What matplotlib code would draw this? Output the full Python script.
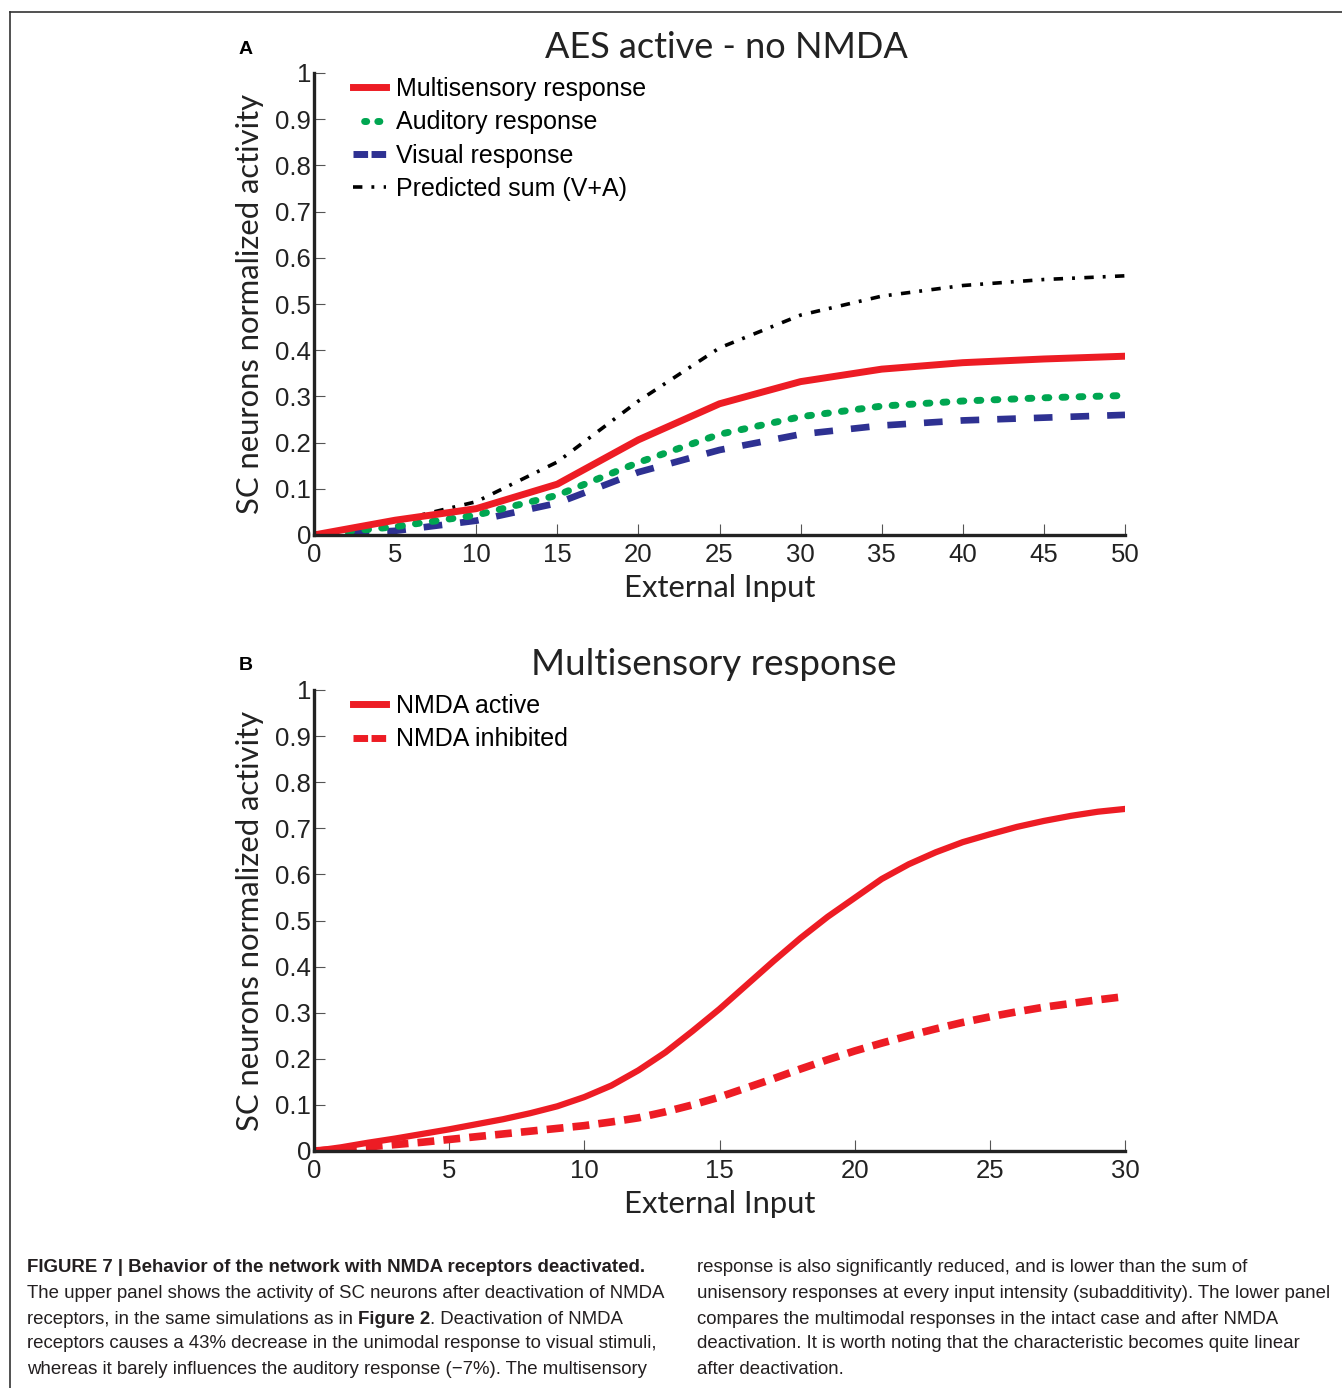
import numpy as np
from matplotlib import pyplot as plt
from matplotlib.lines import Line2D

# panel A data (external input 0..50, step 5)
input_a = [0, 5, 10, 15, 20, 25, 30, 35, 40, 45, 50]
multisensory = [0.0, 0.032, 0.057, 0.110, 0.206, 0.284, 0.332, 0.359, 0.373, 0.381, 0.387]
auditory = [0.0, 0.018, 0.043, 0.086, 0.157, 0.218, 0.256, 0.279, 0.290, 0.297, 0.302]
visual = [0.0, 0.009, 0.031, 0.069, 0.136, 0.184, 0.218, 0.237, 0.248, 0.254, 0.260]
predicted_sum = [0.0, 0.030, 0.072, 0.158, 0.290, 0.405, 0.476, 0.517, 0.540, 0.553, 0.561]

# panel B data (external input 0..30)
input_b = list(range(31))
nmda_active = [0.0, 0.008, 0.018, 0.027, 0.037, 0.047, 0.058, 0.069, 0.082, 0.097,
               0.117, 0.142, 0.175, 0.214, 0.260, 0.308, 0.360, 0.412, 0.462, 0.508,
               0.549, 0.590, 0.622, 0.648, 0.670, 0.687, 0.703, 0.716, 0.727, 0.736, 0.742]
nmda_inhibited = [0.0, 0.004, 0.009, 0.014, 0.019, 0.025, 0.031, 0.037, 0.043, 0.049,
                  0.055, 0.063, 0.072, 0.085, 0.100, 0.117, 0.137, 0.157, 0.178, 0.198,
                  0.217, 0.234, 0.250, 0.265, 0.279, 0.291, 0.302, 0.312, 0.320, 0.328, 0.335]

yticks = [0, 0.1, 0.2, 0.3, 0.4, 0.5, 0.6, 0.7, 0.8, 0.9, 1]
ytick_labels = ["0", "0.1", "0.2", "0.3", "0.4", "0.5", "0.6", "0.7", "0.8", "0.9", "1"]

red = "#ed1c24"
green = "#00a651"
blue = "#2e3192"
title_font = "Lato"
tick_font = "Liberation Sans"

# line styles (dash patterns in units of line width)
dotted = (0, (0.55, 1.9))
dashed_blue = (0, (2.8, 2.7))
dash_dot = (0, (2.6, 2.5, 0.8, 2.6))
dashed_red = (0, (2.2, 1.2))

W, H = 1342, 1388
fig = plt.figure(figsize=(W / 100, H / 100), dpi=100)


def style_axes(ax, xmax, xstep):
    ax.set_xlim(0, xmax)
    ax.set_ylim(0, 1)
    ax.spines["top"].set_visible(False)
    ax.spines["right"].set_visible(False)
    for side in ["left", "bottom"]:
        ax.spines[side].set_linewidth(2.4)
        ax.spines[side].set_color("#222222")
    ax.set_xticks(np.arange(0, xmax + 1, xstep))
    ax.set_yticks(yticks)
    ax.set_yticklabels(ytick_labels)
    ax.tick_params(direction="in", length=8, width=0.8, color="#555555",
                   labelsize=18.5, labelcolor="#222222")
    ax.tick_params(axis="x", pad=5.5)
    ax.tick_params(axis="y", pad=2)
    for lab in ax.get_xticklabels() + ax.get_yticklabels():
        lab.set_fontfamily(tick_font)
    ax.set_xlabel("External Input", fontsize=22.3, family=title_font, labelpad=5.5,
                  color="#222222")
    ax.set_ylabel("SC neurons normalized activity", fontsize=22.3, family=title_font,
                  labelpad=8, color="#222222")
    ax.patch.set_alpha(0)


legend_kw = dict(loc="upper left", bbox_to_anchor=(0.02, 1.04), frameon=False,
                 handlelength=1.32, handletextpad=0.4, labelspacing=0.37,
                 prop={"family": tick_font, "size": 18})

# panel A
ax1 = fig.add_axes([314 / W, 1 - 535 / H, 811 / W, 462 / H])
ax1.plot(input_a, predicted_sum, color="black", lw=2.6, linestyle=dash_dot)
ax1.plot(input_a, visual, color=blue, lw=4.8, linestyle=dashed_blue)
ax1.plot(input_a, auditory, color=green, lw=5, linestyle=dotted, dash_capstyle="round")
ax1.plot(input_a, multisensory, color=red, lw=5)
style_axes(ax1, 50, 5)
ax1.set_title("AES active - no NMDA", fontsize=26, family=title_font, pad=11,
              x=0.508, color="#222222")

handles_a = [
    Line2D([], [], color=red, lw=5),
    Line2D([], [], color=green, lw=5, linestyle=(0.3, (0.3, 1.6)), dash_capstyle="round"),
    Line2D([], [], color=blue, lw=5, linestyle=(0, (2.1, 0.5))),
    Line2D([], [], color="black", lw=2.6, linestyle=(0, (2.6, 2.5, 0.8, 2.6))),
]
labels_a = ["Multisensory response", "Auditory response", "Visual response",
            "Predicted sum (V+A)"]
ax1.legend(handles_a, labels_a, **legend_kw)

# panel B
ax2 = fig.add_axes([314 / W, 1 - 1151 / H, 811 / W, 461 / H])
ax2.plot(input_b, nmda_inhibited, color=red, lw=5.5, linestyle=dashed_red)
ax2.plot(input_b, nmda_active, color=red, lw=4.5)
style_axes(ax2, 30, 5)
ax2.set_title("Multisensory response", fontsize=26.5, family=title_font, pad=11,
              x=0.493, color="#222222")
handles_b = [
    Line2D([], [], color=red, lw=5),
    Line2D([], [], color=red, lw=5, linestyle=(0, (2.1, 0.5))),
]
ax2.legend(handles_b, ["NMDA active", "NMDA inhibited"], **legend_kw)

# panel letters
fig.text(246 / W, 1 - 49 / H, "A", fontsize=14, weight="bold", ha="center", va="center",
         family=tick_font)
fig.text(246 / W, 1 - 665 / H, "B", fontsize=14, weight="bold", ha="center", va="center",
         family=tick_font)

# frame (top and left edges)
fig.add_artist(Line2D([10 / W, 1], [1 - 12 / H, 1 - 12 / H], color="#333333", lw=1.2))
fig.add_artist(Line2D([10 / W, 10 / W], [0, 1 - 12 / H], color="#333333", lw=1.2))

# caption, written in two columns
cap_font = "Liberation Sans"
cap_size = 13.4
cap_color = "#231f20"
line_ys = [1268, 1293, 1319, 1344, 1369]
left_col = [
    [("FIGURE 7 | Behavior of the network with NMDA receptors deactivated.", "bold")],
    [("The upper panel shows the activity of SC neurons after deactivation of NMDA", "normal")],
    [("receptors, in the same simulations as in ", "normal"), ("Figure 2", "bold"),
     (". Deactivation of NMDA", "normal")],
    [("receptors causes a 43% decrease in the unimodal response to visual stimuli,", "normal")],
    [("whereas it barely influences the auditory response (\u22127%). The multisensory", "normal")],
]
right_col = [
    "response is also significantly reduced, and is lower than the sum of",
    "unisensory responses at every input intensity (subadditivity). The lower panel",
    "compares the multimodal responses in the intact case and after NMDA",
    "deactivation. It is worth noting that the characteristic becomes quite linear",
    "after deactivation.",
]

renderer = fig.canvas.get_renderer()
for y, parts in zip(line_ys, left_col):
    x = 27
    for text, weight in parts:
        t = fig.text(x / W, 1 - y / H, text, fontsize=cap_size, weight=weight,
                     family=cap_font, ha="left", va="center", color=cap_color)
        x += t.get_window_extent(renderer).width
for y, text in zip(line_ys, right_col):
    fig.text(697 / W, 1 - y / H, text, fontsize=cap_size, family=cap_font,
             ha="left", va="center", color=cap_color)

fig.savefig("out.png", dpi=100)
